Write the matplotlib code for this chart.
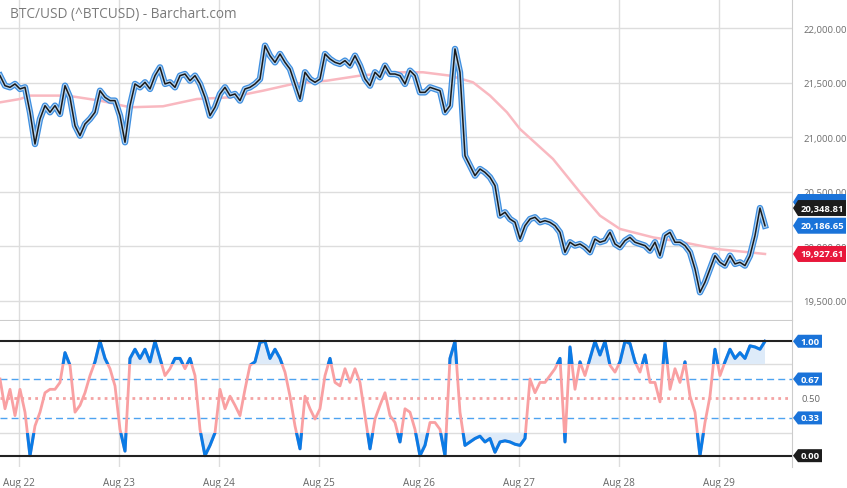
import numpy as np
import pandas as pd
import matplotlib
matplotlib.use('Agg')
import matplotlib.pyplot as plt
import matplotlib.dates as mdates
from matplotlib.patches import Polygon, Rectangle
from matplotlib.transforms import blended_transform_factory

plt.rcParams['font.family'] = ['Open Sans', 'DejaVu Sans']

# BTC/USD price, one value every 72 minutes starting Aug 21 19:22
price = [21563, 21471, 21456, 21487, 21441, 21456, 21227, 20936, 21166, 21288, 21227, 21288, 21211, 21471,
         21364, 21104, 21013, 21120, 21166, 21227, 21425, 21364, 21334, 21334, 21196, 20952, 21288,
         21487, 21456, 21502, 21441, 21563, 21639, 21487, 21502, 21456, 21563, 21578, 21517, 21563,
         21487, 21364, 21196, 21273, 21395, 21456, 21380, 21395, 21334, 21441, 21456, 21487, 21532,
         21838, 21746, 21685, 21762, 21685, 21624, 21487, 21349, 21594, 21532, 21502, 21532, 21762,
         21716, 21685, 21670, 21701, 21655, 21746, 21655, 21532, 21471, 21594, 21548, 21655, 21578,
         21578, 21563, 21487, 21609, 21563, 21410, 21410, 21456, 21441, 21425, 21227, 21288, 21808,
         21594, 20829, 20738, 20646, 20707, 20676, 20631, 20554, 20279, 20310, 20248, 20218, 20065,
         20187, 20248, 20264, 20218, 20233, 20218, 20187, 20126, 19943, 20035, 20004, 20019, 19989,
         19943, 20065, 20035, 20050, 20126, 20019, 19989, 20050, 20080, 20035, 20019, 20004, 19958,
         20035, 19912, 20096, 20126, 20035, 20035, 20004, 19943, 19790, 19576, 19668, 19790, 19912,
         19851, 19821, 19912, 19836, 19851, 19821, 19912, 20096, 20348.81, 20186.65]

# stochastic oscillator (0..1) on the same time grid
stoch = [0.67, 0.41, 0.58, 0.35, 0.58, 0.38, 0.00, 0.26, 0.38, 0.55, 0.58, 0.58, 0.64, 0.90,
         0.79, 0.38, 0.44, 0.55, 0.70, 0.82, 1.00, 0.85, 0.76, 0.61, 0.23, 0.04, 0.85,
         0.93, 0.85, 0.93, 0.82, 1.00, 0.85, 0.70, 0.76, 0.85, 0.85, 0.76, 0.85, 0.70,
         0.23, 0.00, 0.09, 0.20, 0.58, 0.41, 0.52, 0.44, 0.35, 0.58, 0.79, 0.82, 0.99,
         1.00, 0.85, 0.93, 0.85, 0.73, 0.52, 0.26, 0.06, 0.52, 0.41, 0.32, 0.41, 0.70,
         0.85, 0.64, 0.61, 0.76, 0.64, 0.76, 0.64, 0.35, 0.06, 0.32, 0.44, 0.55, 0.35,
         0.29, 0.12, 0.41, 0.38, 0.23, 0.00, 0.09, 0.29, 0.29, 0.23, 0.00, 0.85, 1.00,
         0.38, 0.09, 0.12, 0.15, 0.17, 0.12, 0.15, 0.03, 0.12, 0.13, 0.12, 0.10, 0.09,
         0.15, 0.67, 0.55, 0.64, 0.64, 0.70, 0.76, 0.85, 0.12, 0.95, 0.58, 0.82, 0.70,
         0.85, 1.00, 0.88, 1.00, 0.79, 0.73, 0.82, 1.00, 0.98, 0.82, 0.73, 0.88, 0.64,
         0.64, 0.47, 1.00, 0.58, 0.76, 0.64, 0.82, 0.52, 0.38, 0.00, 0.29, 0.52, 0.93,
         0.70, 0.82, 0.93, 0.85, 0.90, 0.85, 0.96, 0.95, 0.93, 1.00]

# moving average (pink line)
ma_times = ['2022-08-21 19:22', '2022-08-22 00:10', '2022-08-22 02:34', '2022-08-22 11:27',
            '2022-08-22 19:22', '2022-08-23 02:34', '2022-08-23 10:29', '2022-08-23 18:39',
            '2022-08-24 02:34', '2022-08-24 10:29', '2022-08-24 17:41', '2022-08-25 01:51',
            '2022-08-25 09:46', '2022-08-25 17:41', '2022-08-26 00:53', '2022-08-26 07:22',
            '2022-08-26 12:53', '2022-08-26 16:58', '2022-08-26 21:02', '2022-08-27 00:09',
            '2022-08-27 08:05', '2022-08-27 14:34', '2022-08-27 19:22', '2022-08-28 00:10',
            '2022-08-28 08:05', '2022-08-28 15:17', '2022-08-28 23:26', '2022-08-29 10:58']
ma_values = [21318, 21349, 21380, 21380, 21334, 21273, 21282, 21349, 21364, 21425, 21487, 21517,
             21563, 21594, 21594, 21563, 21502, 21380, 21227, 21074, 20799, 20493, 20279, 20157,
             20080, 20035, 19973, 19927.61]

price_ticks = [19500, 20000, 20500, 21000, 21500, 22000]
last_high = 20348.81
last_close = 20186.65
last_ma = 19927.61

times = pd.date_range('2022-08-21 19:22', periods=len(price), freq='72min')
ma_t = pd.to_datetime(ma_times)
price = np.array(price)
stoch = np.array(stoch)

W, H = 847, 489
fig = plt.figure(figsize=(W / 100, H / 100), dpi=100)
ax = fig.add_axes([0, 1 - 321 / H, 792 / W, 321 / H])
ax2 = fig.add_axes([0, 1 - 468 / H, 792 / W, 146 / H])

x0 = pd.Timestamp('2022-08-21 19:22')
x1 = pd.Timestamp('2022-08-29 17:27')
grid_c = '#dddddd'

# ---- price panel
ax.plot(times, price, color='#3d8ee0', lw=4.6, solid_joinstyle='round', zorder=3)
ax.plot(times, price, color='#b3d3f0', lw=2.8, solid_joinstyle='round', zorder=4)
ax.plot(times, price, color='#1a1a1a', lw=1.1, zorder=5)
ax.plot(ma_t, ma_values, color='#f9b8c0', lw=1.8, zorder=2)

ax.set_xlim(x0, x1)
ax.set_ylim(19322, 22266)
ax.set_yticks(price_ticks)
ax.set_yticklabels([f'{v:,.2f}' for v in price_ticks])
ax.yaxis.tick_right()
ax.tick_params(axis='y', length=0, pad=8, labelsize=6.8, labelcolor='#6e6e6e')
ax.xaxis.set_major_locator(mdates.DayLocator())
ax.tick_params(axis='x', length=0, labelbottom=False)
ax.grid(True, color=grid_c, lw=1)
ax.set_axisbelow(True)
for s in ['top', 'left']:
    ax.spines[s].set_visible(False)
for s in ['bottom', 'right']:
    ax.spines[s].set_color('#cccccc')

ax.text(0.012, 0.955, 'BTC/USD (^BTCUSD) - Barchart.com', transform=ax.transAxes,
        fontsize=9.8, color='#7a7a7a', va='center', ha='left')

# ---- oscillator panel
ax2.set_xlim(x0, x1)
ax2.set_ylim(-0.099, 1.177)
ax2.fill_between(times, stoch, 0.8, where=stoch > 0.8, interpolate=True, color='#deebf9', lw=0, zorder=1)
ax2.fill_between(times, stoch, 0.2, where=stoch < 0.2, interpolate=True, color='#deebf9', lw=0, zorder=1)
ax2.plot(times, stoch, color='#f9a0a2', lw=2, zorder=4)
for lo, hi in [(0.8, 2.0), (-1.0, 0.2)]:
    line, = ax2.plot(times, stoch, color='#0a7be6', lw=2.2, zorder=5)
    clip = Rectangle((mdates.date2num(x0), lo), mdates.date2num(x1) - mdates.date2num(x0), hi - lo,
                     transform=ax2.transData)
    line.set_clip_path(clip)

ax2.axhline(1.0, color='#222222', lw=1.5, zorder=6)
ax2.axhline(0.0, color='#222222', lw=1.5, zorder=6)
ax2.axhline(0.67, color='#4da3f0', lw=1, dashes=(5, 3), zorder=3)
ax2.axhline(0.33, color='#4da3f0', lw=1, dashes=(5, 3), zorder=3)
ax2.axhline(0.5, color='#f4a4a4', lw=2, dashes=(1, 1.5), zorder=3)

ax2.set_yticks([0.2, 0.8])
ax2.tick_params(axis='y', length=0, labelleft=False, labelright=False)
ax2.xaxis.set_major_locator(mdates.DayLocator())
ax2.xaxis.set_major_formatter(mdates.DateFormatter('%b %d'))
ax2.tick_params(axis='x', length=0, pad=7, labelsize=7.2, labelcolor='#666666')
ax2.grid(True, color=grid_c, lw=1)
ax2.set_axisbelow(True)
for s in ['top', 'left', 'bottom']:
    ax2.spines[s].set_visible(False)
ax2.spines['right'].set_color('#cccccc')


def tag(axis, value, text, color, wpx, hpx):
    tr = blended_transform_factory(axis.transAxes, axis.transData)
    ylo, yhi = axis.get_ylim()
    ax_h = axis.get_position().height * H
    dy = (yhi - ylo) / ax_h * hpx / 2
    xa = 1.0 + 1 / 792
    xb = xa + 5 / 792
    xe = xa + wpx / 792
    poly = Polygon([(xa, value), (xb, value + dy), (xe, value + dy), (xe, value - dy), (xb, value - dy)],
                   closed=True, transform=tr, facecolor=color, edgecolor='none', clip_on=False, zorder=10)
    axis.add_patch(poly)
    if text:
        axis.text((xb + xe) / 2, value, text, transform=tr, ha='center', va='center', color='white',
                  fontsize=6.8, fontweight='bold', clip_on=False, zorder=11)


tag(ax, 20404, '', '#1a73d9', 53, 16)
tag(ax, last_high, f'{last_high:,.2f}', '#1c1c1c', 53, 16)
tag(ax, last_close, f'{last_close:,.2f}', '#1a73d9', 53, 16)
tag(ax, last_ma, f'{last_ma:,.2f}', '#e8173a', 53, 16)

tag(ax2, 1.0, '1.00', '#1a73d9', 29, 13)
tag(ax2, 0.67, '0.67', '#1a73d9', 29, 13)
tag(ax2, 0.33, '0.33', '#1a73d9', 29, 13)
tag(ax2, 0.0, '0.00', '#1c1c1c', 29, 13)
tr2 = blended_transform_factory(ax2.transAxes, ax2.transData)
ax2.text(1 + 19 / 792, 0.5, '0.50', transform=tr2, ha='center', va='center', color='#666666',
         fontsize=6.8, clip_on=False)

fig.savefig('out.png', dpi=100)
plt.close(fig)
